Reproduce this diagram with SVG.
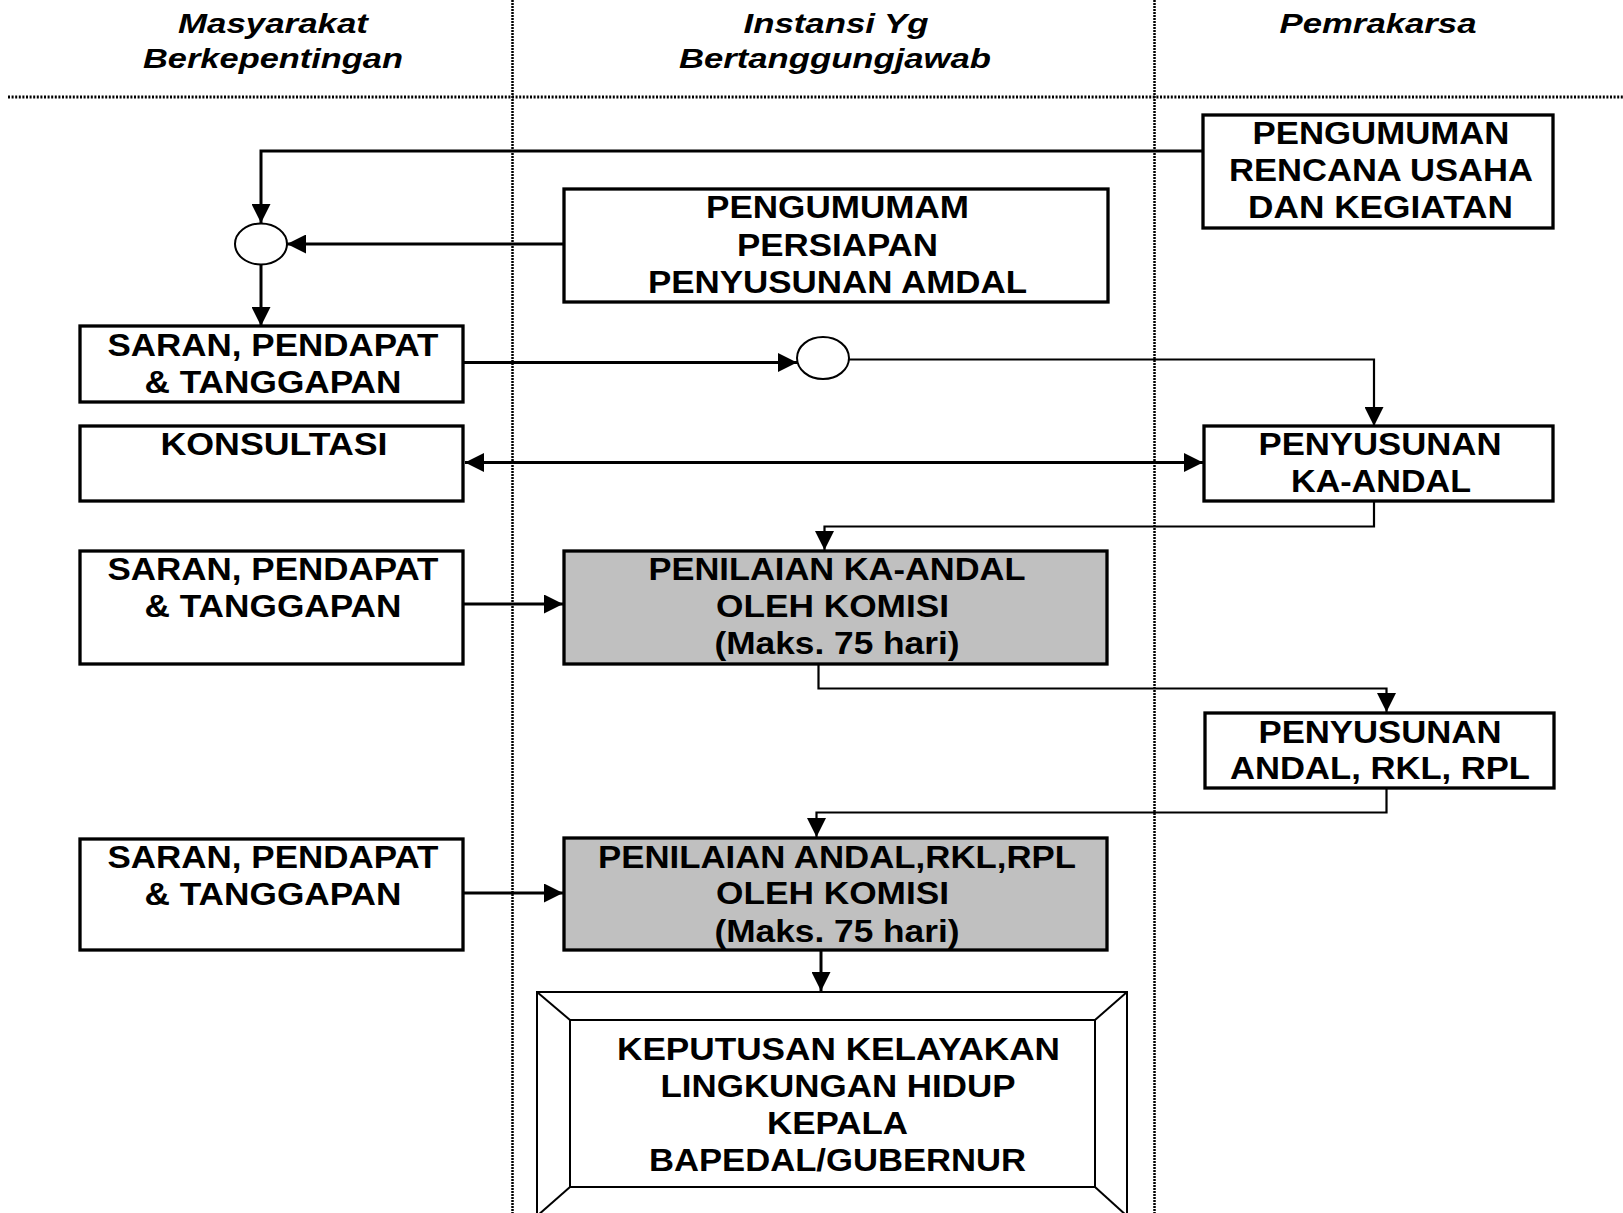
<svg xmlns="http://www.w3.org/2000/svg" width="1623" height="1213" viewBox="0 0 1623 1213">
<style>
.hd{font-family:"Liberation Sans",Arial,sans-serif;font-weight:bold;font-style:italic;font-size:28px;text-anchor:middle;fill:#000}
.tx{font-family:"Liberation Sans",Arial,sans-serif;font-weight:bold;font-size:31px;text-anchor:middle;fill:#000}
.box{fill:#fff;stroke:#000;stroke-width:3.3}
.gbox{fill:#c0c0c0;stroke:#000;stroke-width:3.3}
.thin{fill:#fff;stroke:#000;stroke-width:2}
.c3{fill:none;stroke:#000;stroke-width:3}
.c2{fill:none;stroke:#000;stroke-width:2.2}
.vd{stroke:#000;stroke-width:2.5;stroke-dasharray:2,1}
.hdl{stroke:#000;stroke-width:3.2;stroke-dasharray:2,1.6}
</style>
<defs>
<marker id="ah" viewBox="0 0 19 19" refX="19" refY="9.5" markerWidth="19" markerHeight="19" markerUnits="userSpaceOnUse" orient="auto-start-reverse"><path d="M0,0 L19,9.5 L0,19 z" fill="#000"/></marker>
</defs>
<rect width="1623" height="1213" fill="#fff"/>
<g id="lanes">
<line class="vd" x1="512.5" y1="0" x2="512.5" y2="1213"/>
<line class="vd" x1="1154.5" y1="0" x2="1154.5" y2="1213"/>
<line class="hdl" x1="8" y1="97" x2="1623" y2="97"/>
<text class="hd" x="273" y="32.5" textLength="190" lengthAdjust="spacingAndGlyphs">Masyarakat</text>
<text class="hd" x="273" y="68" textLength="260" lengthAdjust="spacingAndGlyphs">Berkepentingan</text>
<text class="hd" x="836" y="32.5" textLength="185" lengthAdjust="spacingAndGlyphs">Instansi Yg</text>
<text class="hd" x="835" y="68" textLength="312" lengthAdjust="spacingAndGlyphs">Bertanggungjawab</text>
<text class="hd" x="1378" y="33" textLength="197" lengthAdjust="spacingAndGlyphs">Pemrakarsa</text>
</g>
<g id="connectors">
<polyline class="c3" points="1203,151 261,151 261,223" marker-end="url(#ah)"/>
<line class="c3" x1="564" y1="244" x2="287" y2="244" marker-end="url(#ah)"/>
<line class="c3" x1="261" y1="265" x2="261" y2="326" marker-end="url(#ah)"/>
<line class="c3" x1="463" y1="362.5" x2="797" y2="362.5" marker-end="url(#ah)"/>
<polyline class="c2" points="849,359.5 1374,359.5 1374,426" marker-end="url(#ah)"/>
<line class="c3" x1="465" y1="462.5" x2="1203" y2="462.5" marker-start="url(#ah)" marker-end="url(#ah)"/>
<polyline class="c2" points="1374,501 1374,526.5 824.5,526.5 824.5,550" marker-end="url(#ah)"/>
<line class="c3" x1="459" y1="604" x2="563" y2="604" marker-end="url(#ah)"/>
<polyline class="c2" points="818.5,664 818.5,688.5 1386.5,688.5 1386.5,712" marker-end="url(#ah)"/>
<polyline class="c2" points="1386.5,788 1386.5,812.5 816.5,812.5 816.5,837" marker-end="url(#ah)"/>
<line class="c3" x1="457" y1="893" x2="563" y2="893" marker-end="url(#ah)"/>
<line class="c3" x1="821" y1="950" x2="821" y2="991" marker-end="url(#ah)"/>
</g>
<g id="junction1"><ellipse class="thin" cx="261" cy="244" rx="26" ry="20.5"/></g>
<g id="junction2"><ellipse class="thin" cx="823" cy="358" rx="26" ry="21"/></g>
<g id="pengumuman-rencana">
<rect class="box" x="1203" y="115" width="350" height="113"/>
<text class="tx" x="1381" y="144" textLength="257" lengthAdjust="spacingAndGlyphs">PENGUMUMAN</text>
<text class="tx" x="1381" y="181" textLength="304" lengthAdjust="spacingAndGlyphs">RENCANA USAHA</text>
<text class="tx" x="1380.5" y="218" textLength="265" lengthAdjust="spacingAndGlyphs">DAN KEGIATAN</text>
</g>
<g id="pengumumam-persiapan">
<rect class="box" x="564" y="189" width="544" height="113"/>
<text class="tx" x="837.5" y="218" textLength="263" lengthAdjust="spacingAndGlyphs">PENGUMUMAM</text>
<text class="tx" x="837.5" y="255.5" textLength="201" lengthAdjust="spacingAndGlyphs">PERSIAPAN</text>
<text class="tx" x="837.5" y="292.5" textLength="379" lengthAdjust="spacingAndGlyphs">PENYUSUNAN AMDAL</text>
</g>
<g id="saran1">
<rect class="box" x="80" y="326" width="383" height="76"/>
<text class="tx" x="273" y="355.5" textLength="331" lengthAdjust="spacingAndGlyphs">SARAN, PENDAPAT</text>
<text class="tx" x="273" y="393" textLength="257" lengthAdjust="spacingAndGlyphs">&amp; TANGGAPAN</text>
</g>
<g id="konsultasi">
<rect class="box" x="80" y="426" width="383" height="75"/>
<text class="tx" x="274" y="454.5" textLength="227" lengthAdjust="spacingAndGlyphs">KONSULTASI</text>
</g>
<g id="penyusunan-ka">
<rect class="box" x="1204" y="426" width="349" height="75"/>
<text class="tx" x="1380" y="455" textLength="243" lengthAdjust="spacingAndGlyphs">PENYUSUNAN</text>
<text class="tx" x="1381" y="492" textLength="180" lengthAdjust="spacingAndGlyphs">KA-ANDAL</text>
</g>
<g id="saran2">
<rect class="box" x="80" y="551" width="383" height="113"/>
<text class="tx" x="273" y="580" textLength="331" lengthAdjust="spacingAndGlyphs">SARAN, PENDAPAT</text>
<text class="tx" x="273" y="617" textLength="257" lengthAdjust="spacingAndGlyphs">&amp; TANGGAPAN</text>
</g>
<g id="penilaian-ka">
<rect class="gbox" x="564" y="551" width="543" height="113"/>
<text class="tx" x="837" y="580" textLength="377" lengthAdjust="spacingAndGlyphs">PENILAIAN KA-ANDAL</text>
<text class="tx" x="832.5" y="617" textLength="233" lengthAdjust="spacingAndGlyphs">OLEH KOMISI</text>
<text class="tx" x="837" y="654" textLength="245" lengthAdjust="spacingAndGlyphs">(Maks. 75 hari)</text>
</g>
<g id="penyusunan-andal">
<rect class="box" x="1205" y="713" width="349" height="75"/>
<text class="tx" x="1380" y="742.5" textLength="243" lengthAdjust="spacingAndGlyphs">PENYUSUNAN</text>
<text class="tx" x="1380" y="779" textLength="300" lengthAdjust="spacingAndGlyphs">ANDAL, RKL, RPL</text>
</g>
<g id="saran3">
<rect class="box" x="80" y="839" width="383" height="111"/>
<text class="tx" x="273" y="868" textLength="331" lengthAdjust="spacingAndGlyphs">SARAN, PENDAPAT</text>
<text class="tx" x="273" y="904.5" textLength="257" lengthAdjust="spacingAndGlyphs">&amp; TANGGAPAN</text>
</g>
<g id="penilaian-andal">
<rect class="gbox" x="564" y="838" width="543" height="112"/>
<text class="tx" x="837" y="867.5" textLength="478" lengthAdjust="spacingAndGlyphs">PENILAIAN ANDAL,RKL,RPL</text>
<text class="tx" x="832.5" y="904" textLength="233" lengthAdjust="spacingAndGlyphs">OLEH KOMISI</text>
<text class="tx" x="837" y="941.5" textLength="245" lengthAdjust="spacingAndGlyphs">(Maks. 75 hari)</text>
</g>
<g id="keputusan">
<rect class="thin" x="537" y="992" width="590" height="224"/>
<rect class="thin" x="570" y="1020" width="525" height="167"/>
<line class="thin" x1="537" y1="992" x2="570" y2="1020"/>
<line class="thin" x1="1127" y1="992" x2="1095" y2="1020"/>
<line class="thin" x1="537" y1="1216" x2="570" y2="1187"/>
<line class="thin" x1="1127" y1="1216" x2="1095" y2="1187"/>
<text class="tx" x="838.5" y="1059.5" textLength="443" lengthAdjust="spacingAndGlyphs">KEPUTUSAN KELAYAKAN</text>
<text class="tx" x="838" y="1097" textLength="355" lengthAdjust="spacingAndGlyphs">LINGKUNGAN HIDUP</text>
<text class="tx" x="837.5" y="1134" textLength="141" lengthAdjust="spacingAndGlyphs">KEPALA</text>
<text class="tx" x="837.5" y="1171" textLength="377" lengthAdjust="spacingAndGlyphs">BAPEDAL/GUBERNUR</text>
</g>
</svg>
